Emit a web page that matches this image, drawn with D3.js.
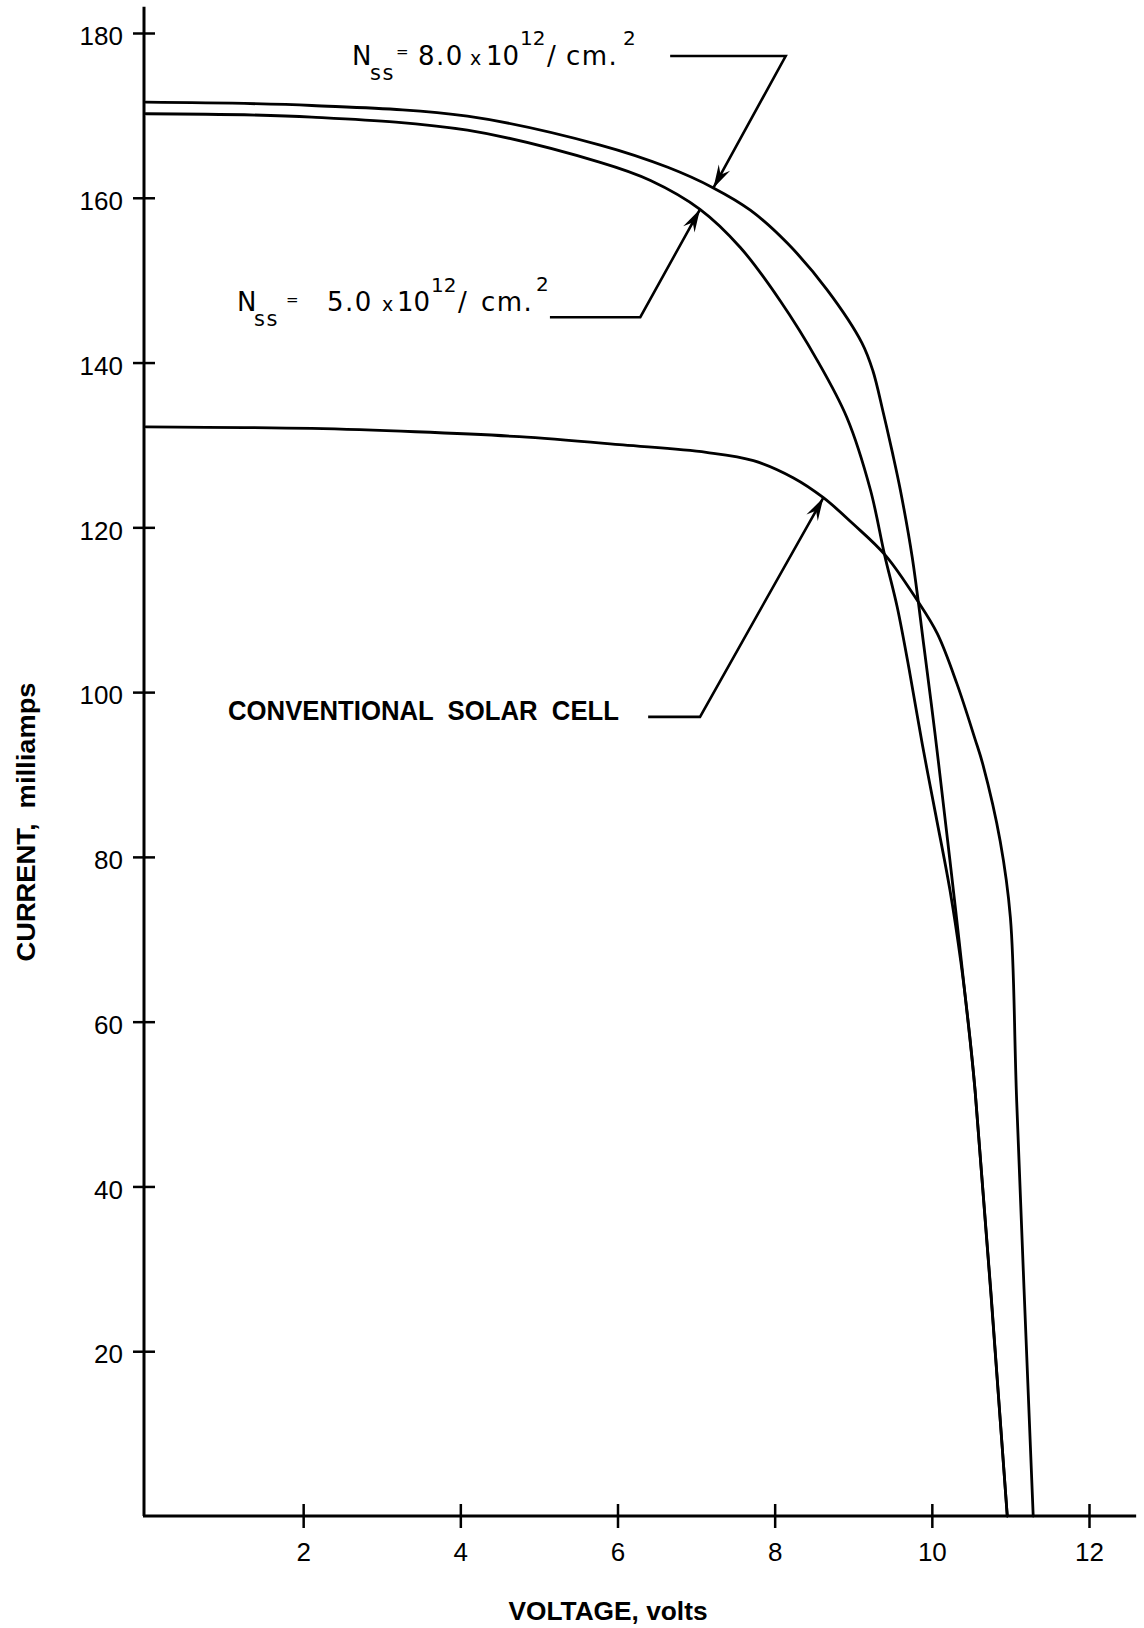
<!DOCTYPE html>
<html><head><meta charset="utf-8">
<script src="https://cdn.jsdelivr.net/npm/d3@7"></script>
<style>body{margin:0;background:#fff}svg{display:block}</style>
</head><body><svg id="c" width="1144" height="1628"></svg>
<script>
// ---- data (volts, milliamps) ----
const voltageTicks = [2, 4, 6, 8, 10, 12];
const currentTicks = [20, 40, 60, 80, 100, 120, 140, 160, 180];

const nss8Voltage = [0, 2.11, 4.09, 5.78, 6.64, 7.22, 7.69, 8.16, 8.67, 9.11, 9.25, 9.38, 9.50, 9.60, 9.75, 9.90, 10.04, 10.17, 10.30, 10.42, 10.55, 10.96];
const nss8Current = [171.6, 171.2, 169.9, 166.4, 163.7, 161.2, 158.5, 154.5, 148.8, 142.4, 139.0, 134.0, 129.0, 124.5, 116.4, 105.5, 95.0, 84.5, 73.8, 63.5, 51.7, 0];

const nss5Voltage = [0, 2.11, 4.09, 5.78, 6.42, 7.05, 7.56, 8.07, 8.54, 8.92, 9.22, 9.40, 9.56, 9.72, 9.88, 10.05, 10.23, 10.37, 10.46, 10.55, 10.96];
const nss5Current = [170.2, 169.8, 168.2, 164.3, 162.1, 158.6, 154.0, 147.5, 140.3, 133.3, 124.5, 116.6, 110.3, 102.3, 93.6, 85.1, 76.0, 67.2, 60.2, 51.7, 0];

const convVoltage = [0, 2.11, 3.43, 4.75, 6.07, 7.13, 7.73, 8.24, 8.62, 9.0, 9.41, 9.81, 10.07, 10.32, 10.55, 10.65, 10.87, 11.0, 11.08, 11.29];
const convCurrent = [132.2, 132.0, 131.6, 131.0, 130.0, 129.1, 128.1, 126.0, 123.6, 120.4, 116.6, 111.2, 107.1, 101.0, 94.3, 91.2, 81.9, 72.6, 50.3, 0];

// leader lines for annotations: [volts, milliamps], last point = arrow tip on curve
const nss8Leader = [[6.67, 177.2], [8.14, 177.2], [7.22, 161.2]];
const nss5Leader = [[5.14, 145.5], [6.29, 145.5], [7.05, 158.6]];
const convLeader = [[6.39, 97.0], [7.05, 97.0], [8.62, 123.6]];

const xTitle = "VOLTAGE, volts";
const yTitle = "CURRENT,  milliamps";
const convLabel = "CONVENTIONAL  SOLAR  CELL";

// ---- drawing ----
const svg = d3.select("#c");
svg.append("rect").attr("width", 1144).attr("height", 1628).attr("fill", "#fff");
const FONT = "'Liberation Sans', Arial, sans-serif";
const LFONT = "'DejaVu Sans', sans-serif";

const x = d3.scaleLinear().domain([0, 12]).range([146, 1089]);
const y = d3.scaleLinear().domain([0, 180]).range([1516, 33]);

// axes lines
svg.append("line").attr("x1", x(0) - 2).attr("x2", x(0) - 2)
  .attr("y1", y(0)).attr("y2", y(183.2))
  .attr("stroke", "#000").attr("stroke-width", 3);
svg.append("line").attr("x1", x(0) - 3).attr("x2", x(12.6))
  .attr("y1", y(0)).attr("y2", y(0))
  .attr("stroke", "#000").attr("stroke-width", 3);

const gy = svg.append("g").attr("transform", `translate(${x(0) - 2},0)`)
  .call(d3.axisLeft(y).tickValues(currentTicks).tickSize(11).tickPadding(10).tickFormat(d3.format("d")));
gy.select(".domain").remove();
gy.selectAll(".tick line").attr("x1", 11).attr("stroke", "#000").attr("stroke-width", 2.5);
gy.selectAll(".tick text").attr("dy", "0.45em").attr("fill", "#000");
gy.attr("font-size", 26).attr("font-family", FONT);

const gx = svg.append("g").attr("transform", `translate(0,${y(0)})`)
  .call(d3.axisBottom(x).tickValues(voltageTicks).tickSize(12).tickPadding(15).tickFormat(d3.format("d")));
gx.select(".domain").remove();
gx.selectAll(".tick line").attr("y1", -12).attr("stroke", "#000").attr("stroke-width", 2.5);
gx.selectAll(".tick text").attr("fill", "#000");
gx.attr("font-size", 26).attr("font-family", FONT);

// axis titles
svg.append("text").attr("x", 608).attr("y", 1620).attr("text-anchor", "middle")
  .attr("font-family", FONT).attr("font-weight", "bold").attr("font-size", 26)
  .attr("textLength", 199).attr("lengthAdjust", "spacingAndGlyphs").text(xTitle);
svg.append("text").attr("transform", "translate(35,822) rotate(-90)").attr("text-anchor", "middle")
  .attr("font-family", FONT).attr("font-weight", "bold").attr("font-size", 26)
  .attr("textLength", 279).attr("lengthAdjust", "spacingAndGlyphs")
  .attr("xml:space", "preserve").text(yTitle);

// curves
const line = d3.line().x(d => x(d[0])).y(d => y(d[1])).curve(d3.curveCatmullRom.alpha(0.5));
const series = [
  d3.zip(nss8Voltage, nss8Current),
  d3.zip(nss5Voltage, nss5Current),
  d3.zip(convVoltage, convCurrent)
];
svg.append("g").selectAll("path").data(series).join("path")
  .attr("d", line).attr("fill", "none").attr("stroke", "#000")
  .attr("stroke-width", 2.8).attr("stroke-linejoin", "round").attr("stroke-linecap", "round");

// leaders with barbed arrowheads
function leader(pts) {
  const p = pts.map(d => [x(d[0]), y(d[1])]);
  svg.append("path").attr("d", d3.line()(p)).attr("fill", "none")
    .attr("stroke", "#000").attr("stroke-width", 2.6).attr("stroke-linejoin", "miter");
  const t = p[p.length - 1], f = p[p.length - 2];
  const dx = t[0] - f[0], dy = t[1] - f[1], L = Math.hypot(dx, dy);
  const ux = dx / L, uy = dy / L, nx = -uy, ny = ux;
  const HL = 23, HW = 6.5, NT = 15;
  const head = [
    t,
    [t[0] - ux * HL + nx * HW, t[1] - uy * HL + ny * HW],
    [t[0] - ux * NT, t[1] - uy * NT],
    [t[0] - ux * HL - nx * HW, t[1] - uy * HL - ny * HW]
  ];
  svg.append("path").attr("d", "M" + head.join("L") + "Z").attr("fill", "#000");
}
leader(nss8Leader);
leader(nss5Leader);
leader(convLeader);

// annotation labels
function nssLabel(cfg) {
  const t = svg.append("text").attr("font-family", LFONT).attr("fill", "#000");
  cfg.forEach(c => t.append("tspan").attr("x", c[1]).attr("y", c[2]).attr("font-size", c[3])
    .attr("letter-spacing", c[4]).text(c[0]));
}
// [text, x, y, size, letterSpacing]
nssLabel([["N", 352, 65, 26, 0], ["ss", 370, 80, 21, 1.5], ["=", 396, 57, 15, 0], ["8.0", 418, 65, 26, 1.5],
  ["x", 470, 65, 19, 0], ["10", 486, 65, 26, 0], ["12", 520, 45, 20, 0], ["/", 547, 65, 26, 0],
  ["cm.", 566, 65, 26, 1.5], ["2", 623, 45, 20, 0]]);
nssLabel([["N", 237, 311, 26, 0], ["ss", 254, 326, 21, 1.5], ["=", 286, 305, 15, 0], ["5.0", 327, 311, 26, 1.5],
  ["x", 382, 311, 19, 0], ["10", 397, 311, 26, 0], ["12", 431, 292, 20, 0], ["/", 458, 311, 26, 0],
  ["cm.", 481, 311, 26, 1.5], ["2", 536, 291, 20, 0]]);

svg.append("text").attr("x", 228).attr("y", 720)
  .attr("font-family", FONT).attr("font-weight", "bold").attr("font-size", 27)
  .attr("textLength", 391).attr("lengthAdjust", "spacingAndGlyphs")
  .attr("xml:space", "preserve").attr("fill", "#000").text(convLabel);
</script></body></html>
